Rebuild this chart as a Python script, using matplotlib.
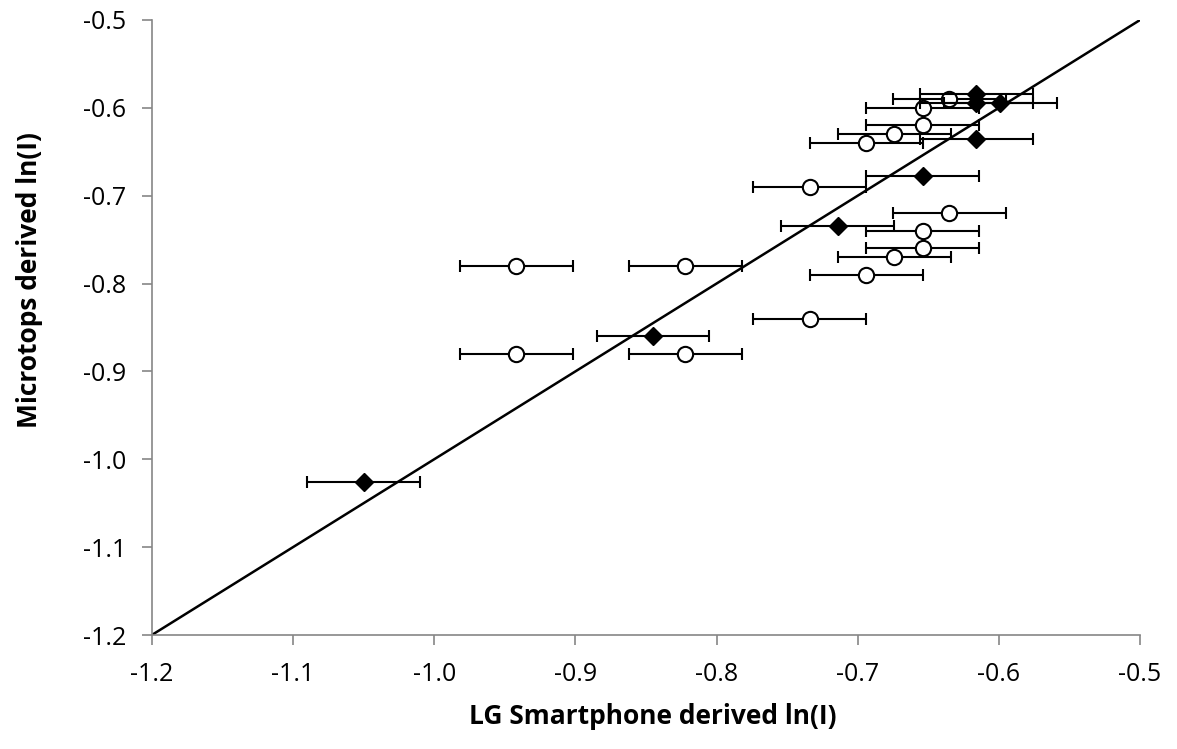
import matplotlib.pyplot as plt

# 空心圆数据
circ_x = [-0.635, -0.654, -0.654, -0.674, -0.694, -0.734, -0.635, -0.654,
          -0.654, -0.674, -0.694, -0.734, -0.942, -0.822, -0.942, -0.822]
circ_y = [-0.590, -0.600, -0.620, -0.630, -0.640, -0.690, -0.720, -0.740,
          -0.760, -0.770, -0.790, -0.840, -0.780, -0.780, -0.880, -0.880]
# 实心菱形数据
diam_x = [-0.616, -0.616, -0.599, -0.616, -0.654, -0.714, -0.845, -1.050]
diam_y = [-0.584, -0.594, -0.594, -0.635, -0.677, -0.735, -0.860, -1.026]
x_err = 0.04

# 1:1 线
line_x = [-1.2, -0.5]
line_y = [-1.2, -0.5]

plt.rcParams['font.family'] = ['Open Sans', 'DejaVu Sans']

fig = plt.figure(figsize=(11.77, 7.49), dpi=100)
ax = fig.add_axes([0.129, 0.1522, 0.8396, 0.8211])

ax.plot(line_x, line_y, color='black', lw=1.8, zorder=1)

ax.errorbar(circ_x, circ_y, xerr=x_err, fmt='o', ms=11, mfc='white', mec='black',
            mew=1.5, ecolor='black', elinewidth=1.5, capsize=4.5, capthick=1.5, zorder=3)
ax.errorbar(diam_x, diam_y, xerr=x_err, fmt='D', ms=9.5, mfc='black', mec='black',
            ecolor='black', elinewidth=1.5, capsize=4.5, capthick=1.5, zorder=4)

ax.set_xlim(-1.2, -0.5)
ax.set_ylim(-1.2, -0.5)
ticks = [-1.2, -1.1, -1.0, -0.9, -0.8, -0.7, -0.6, -0.5]
ax.set_xticks(ticks)
ax.set_yticks(ticks)
ax.set_xticklabels(['%.1f' % t for t in ticks])
ax.set_yticklabels(['%.1f' % t for t in ticks])

for s in ['top', 'right']:
    ax.spines[s].set_visible(False)
for s in ['left', 'bottom']:
    ax.spines[s].set_color('#868686')
    ax.spines[s].set_linewidth(1.2)
ax.tick_params(axis='both', colors='#868686', length=7.5, width=1.2, labelsize=18,
               labelcolor='black')
ax.tick_params(axis='x', pad=12)
ax.tick_params(axis='y', pad=11)

ax.set_xlabel('LG Smartphone derived ln(I)', fontsize=19, fontweight='bold')
ax.set_ylabel('Microtops derived ln(I)', fontsize=19, fontweight='bold')
ax.xaxis.set_label_coords(0.507, -0.11)
ax.yaxis.set_label_coords(-0.11, 0.577)

plt.savefig('out.png', dpi=100)
